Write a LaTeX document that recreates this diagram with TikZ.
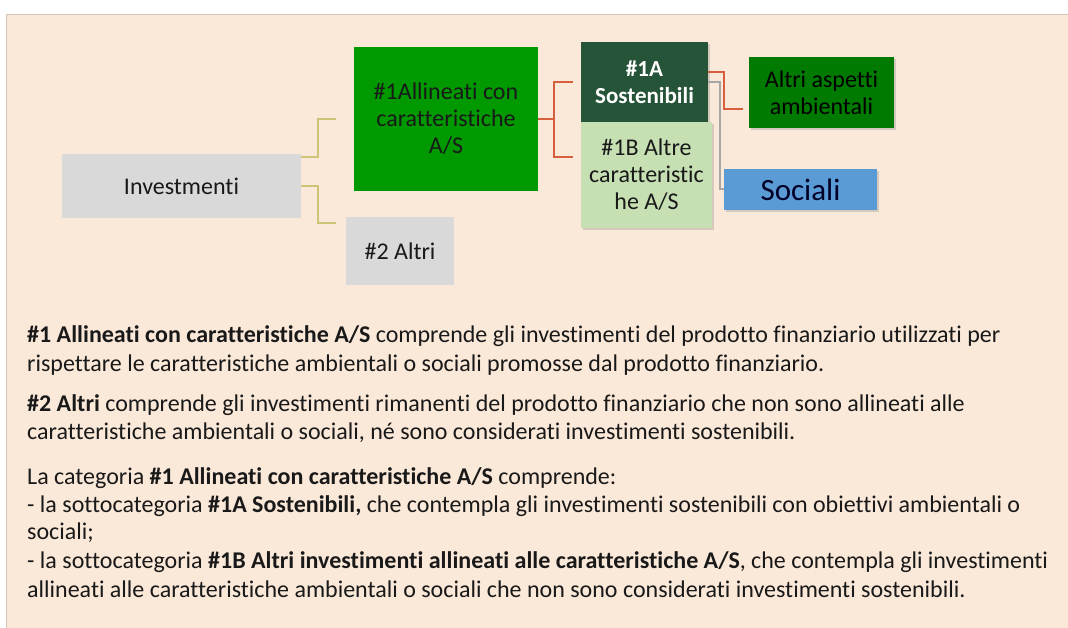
\documentclass[tikz,border=0pt]{standalone}
\usepackage{fontspec}
\setmainfont{Carlito}[Ligatures=NoCommon]
\usetikzlibrary{shadows}
\definecolor{sfondo}{RGB}{250,232,216}
\definecolor{grigio}{RGB}{217,217,217}
\definecolor{verde}{RGB}{0,153,0}
\definecolor{verdescuro}{RGB}{38,84,57}
\definecolor{verdechiaro}{RGB}{198,224,180}
\definecolor{verdemedio}{RGB}{0,122,0}
\definecolor{azzurro}{RGB}{91,155,213}
\definecolor{oliva}{RGB}{205,196,120}
\definecolor{arancio}{RGB}{214,96,62}
\definecolor{testo}{RGB}{25,25,25}
\tikzset{
  box/.style={inner sep=0pt, align=center, text=testo,
    font=\fontsize{24}{27}\selectfont},
  ombra/.style={drop shadow={opacity=0.3, shadow xshift=2pt, shadow yshift=-2pt}},
  olivelink/.style={draw=oliva, line width=2pt},
  redlink/.style={draw=arancio, line width=2pt},
  greylink/.style={draw=gray!70, line width=2pt},
  txt/.style={anchor=base west, inner sep=0pt, text=testo,
    font=\fontsize{24}{26}\selectfont}
}
\begin{document}
\begin{tikzpicture}[x=1pt, y=-1pt]
	\useasboundingbox (0,0) rectangle (1068,628);
	\fill[sfondo] (6,14) rectangle (1068,628);
	\draw[sfondo!85!black, line width=0.5pt] (6,628) -- (6,14) -- (1068,14);
	% riquadri
	\node (In) at (181.5,186) [box, fill=grigio, minimum width=239pt, minimum height=64pt] {Investmenti};
	\node (Al) at (446,119) [box, fill=verde, minimum width=184pt, minimum height=144pt] {\#1Allineati con\\caratteristiche\\A/S};
	\node (Ot) at (400,251) [box, fill=grigio, minimum width=108pt, minimum height=68pt] {\#2 Altri};
	\node (So) at (644.5,82) [box, ombra, fill=verdescuro, text=white, minimum width=127pt, minimum height=80pt, font=\bfseries\fontsize{23}{27}\selectfont] {\#1A\\Sostenibili};
	\node (Ac) at (646.5,175) [box, ombra, fill=verdechiaro, minimum width=131pt, minimum height=106pt] {\#1B Altre\\caratteristic\\he A/S};
	\node (Am) at (821.5,92.5) [box, ombra, fill=verdemedio, text=black, minimum width=145pt, minimum height=71pt] {Altri aspetti\\ambientali};
	\node (Sc) at (800.5,189.5) [box, ombra, fill=azzurro, text=black!85!blue, minimum width=153pt, minimum height=41pt, font=\fontsize{31}{34}\selectfont] {Sociali};
	% collegamenti
	\coordinate (e1) at (336,119);
	\coordinate (e2) at (336,223);
	\coordinate (e3) at (573,82);
	\coordinate (e4) at (573,157);
	\coordinate (e5) at (743,109);
	\draw[olivelink] ([yshift=29pt]In.east) -- ++(17,0) |- (e1);
	\draw[olivelink] (In.east) -- ++(17,0) |- (e2);
	\draw[redlink] (Al.east) -- ++(16,0) |- (e3);
	\draw[redlink] (Al.east) -- ++(16,0) |- (e4);
	\draw[redlink] ([yshift=10pt]So.east) -- ++(16,0) |- (e5);
	\draw[greylink] (So.east) -- ++(12,0) |- (Sc.west);
	% testo
	\node (t1) at (27,342) [txt] {\textbf{\#1 Allineati con caratteristiche A/S} comprende gli investimenti del prodotto finanziario utilizzati per};
	\node (t2) at (27,371) [txt] {rispettare le caratteristiche ambientali o sociali promosse dal prodotto finanziario.};
	\node (t3) at (27,411) [txt] {\textbf{\#2 Altri} comprende gli investimenti rimanenti del prodotto finanziario che non sono allineati alle};
	\node (t4) at (27,439) [txt] {caratteristiche ambientali o sociali, né sono considerati investimenti sostenibili.};
	\node (t5) at (27,484) [txt] {La categoria \textbf{\#1 Allineati con caratteristiche A/S} comprende:};
	\node (t6) at (27,512) [txt] {- la sottocategoria \textbf{\#1A Sostenibili,} che contempla gli investimenti sostenibili con obiettivi ambientali o};
	\node (t7) at (27,539) [txt] {sociali;};
	\node (t8) at (27,568) [txt] {- la sottocategoria \textbf{\#1B Altri investimenti allineati alle caratteristiche A/S}, che contempla gli investimenti};
	\node (t9) at (27,597) [txt] {allineati alle caratteristiche ambientali o sociali che non sono considerati investimenti sostenibili.};
\end{tikzpicture}
\end{document}
